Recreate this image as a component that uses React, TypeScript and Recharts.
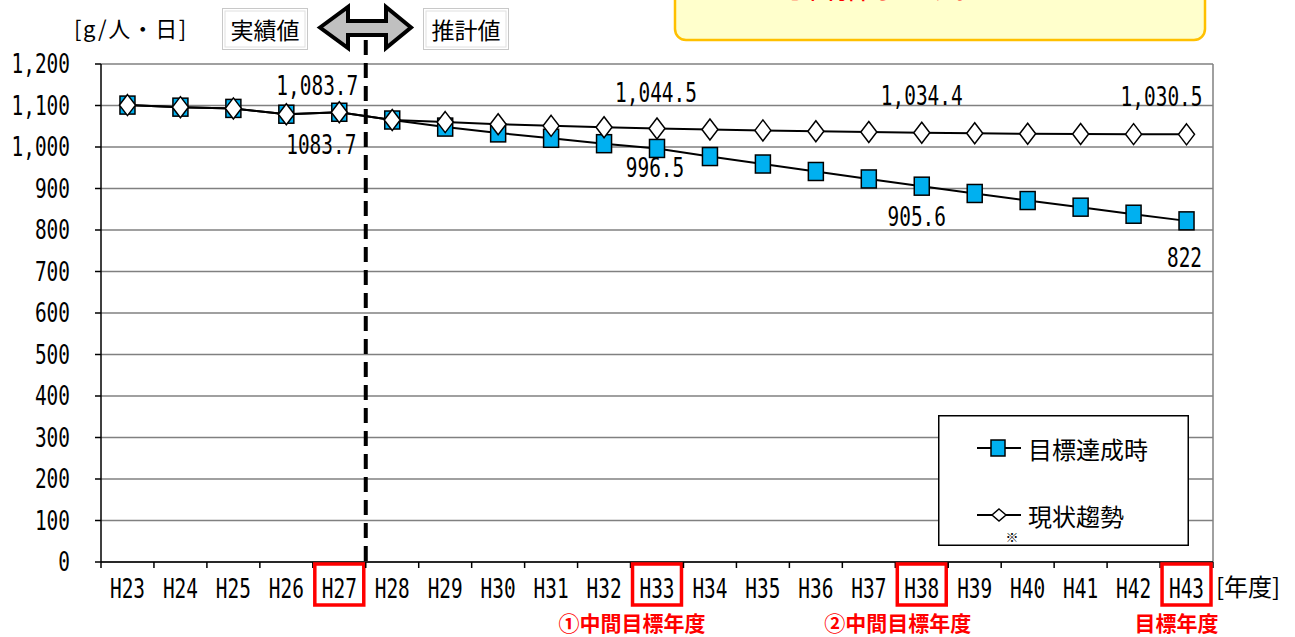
import React from "react";
import { LineChart, Line, XAxis, YAxis, CartesianGrid, Legend, LabelList } from "recharts";

const years = ["H23", "H24", "H25", "H26", "H27", "H28", "H29", "H30", "H31", "H32", "H33", "H34", "H35", "H36", "H37", "H38", "H39", "H40", "H41", "H42", "H43"];
const targetValues = [1101, 1096, 1093, 1079, 1083.7, 1065, 1048, 1034, 1021, 1008, 996.5, 977, 959, 941, 923, 905.6, 888, 871, 855, 838, 822];
const trendValues = [1101, 1096, 1093, 1079, 1083.7, 1065, 1060, 1055, 1051, 1047.5, 1044.5, 1042, 1040, 1038, 1036, 1034.4, 1033, 1032, 1031.5, 1031, 1030.5];
const yTicks = [0, 100, 200, 300, 400, 500, 600, 700, 800, 900, 1000, 1100, 1200];
const milestoneYears = ["H27", "H33", "H38", "H43"];
const noteYears = ["H33", "H38", "H43"];
const noteTexts = ["①中間目標年度", "②中間目標年度", "目標年度"];

const data = years.map((year, i) => ({ year, target: targetValues[i], trend: trendValues[i] }));

const W = 1295;
const H = 637;
const PLOT = { left: 101, top: 64, right: 1213, bottom: 562 };
const BAND = (PLOT.right - PLOT.left) / years.length;
const MONO = "'DejaVu Sans Mono', monospace";
const JP = "'Noto Sans CJK JP', sans-serif";
const BLUE = "#00b0f0";

// label placement relative to the point (dx, dy)
const targetLabelOffset: Record<string, [number, number]> = { H27: [-18, 33], H33: [-2, 19], H38: [-5, 31], H43: [-2, 37] };
const trendLabelOffset: Record<string, [number, number]> = { H27: [-22, -26], H33: [-1, -36], H38: [0, -37], H43: [-25, -38] };
const noteShift: Record<string, number> = { H33: -25, H38: -24, H43: -10 };

const MonoText = ({ x, y, anchor = "middle", children }: any) => (
  <text
    transform={`translate(${x},${y}) scale(0.72,1)`}
    textAnchor={anchor}
    dominantBaseline="central"
    fontFamily={MONO}
    fontSize={27}
    fill="#000"
  >
    {children}
  </text>
);

const XTick = (props: any) => {
  const { x, y, payload, index } = props;
  const half = payload.offset || BAND / 2;
  const name = payload.value;
  const noteIdx = noteYears.indexOf(name);
  return (
    <g>
      <line x1={x - half} x2={x - half} y1={y} y2={y + 6} stroke="#000" strokeWidth={1.5} />
      {index === years.length - 1 && (
        <line x1={x + half} x2={x + half} y1={y} y2={y + 6} stroke="#000" strokeWidth={1.5} />
      )}
      <MonoText x={x} y={y + 27}>{name}</MonoText>
      {milestoneYears.includes(name) && (
        <rect x={x - half + 2} y={y + 2} width={half * 2 - 4} height={41} fill="none" stroke="#ff0000" strokeWidth={3.5} />
      )}
      {noteIdx >= 0 && (
        <text
          x={x + (noteShift[name] || 0)}
          y={y + 60}
          textAnchor="middle"
          dominantBaseline="central"
          fontFamily={JP}
          fontWeight="bold"
          fontSize={21}
          fill="#ff0000"
        >
          {noteTexts[noteIdx]}
        </text>
      )}
    </g>
  );
};

const YTick = ({ x, y, payload }: any) => (
  <MonoText x={x} y={y} anchor="end">{payload.value.toLocaleString("en-US")}</MonoText>
);

const SquareDot = ({ cx, cy }: any) =>
  cx == null ? null : <rect x={cx - 7.5} y={cy - 9} width={15} height={18} fill={BLUE} stroke="#000" strokeWidth={1.5} />;

const DiamondDot = ({ cx, cy }: any) =>
  cx == null ? null : (
    <polygon
      points={`${cx},${cy - 10.5} ${cx + 8},${cy} ${cx},${cy + 10.5} ${cx - 8},${cy}`}
      fill="#fff"
      stroke="#000"
      strokeWidth={1.5}
    />
  );

const makeLabel = (offsets: Record<string, [number, number]>, withComma: boolean) => (props: any) => {
  const { x, y, value, index } = props;
  const off = offsets[years[index]];
  if (!off) return null;
  const txt = withComma ? Number(value).toLocaleString("en-US") : String(value);
  return <MonoText x={x + off[0]} y={y + off[1]}>{txt}</MonoText>;
};

const LegendBox = () => (
  <svg width={251} height={131} style={{ display: "block" }}>
    <rect x={0.75} y={0.75} width={249.5} height={129.5} fill="#fff" stroke="#000" strokeWidth={1.5} />
    <line x1={39} x2={83} y1={33} y2={33} stroke="#000" strokeWidth={2} />
    <rect x={53} y={25} width={14} height={16} fill={BLUE} stroke="#000" strokeWidth={1.5} />
    <text x={90} y={33} dominantBaseline="central" fontFamily={JP} fontSize={24} fill="#000">目標達成時</text>
    <line x1={39} x2={83} y1={100} y2={100} stroke="#000" strokeWidth={2} />
    <polygon points="61,94 68,100 61,106 54,100" fill="#fff" stroke="#000" strokeWidth={1.5} />
    <text x={90} y={100} dominantBaseline="central" fontFamily={JP} fontSize={24} fill="#000">現状趨勢</text>
    <text x={74} y={121} textAnchor="middle" dominantBaseline="central" fontFamily={JP} fontSize={13} fill="#000">※</text>
  </svg>
);

const Overlay = () => {
  const splitX = PLOT.left + 5 * BAND;
  return (
    <svg width={W} height={H} style={{ position: "absolute", left: 0, top: 0, pointerEvents: "none" }}>
      <rect x={675} y={-12} width={530} height={52} rx={11} fill="#ffffcc" stroke="#ffc000" strokeWidth={2.5} />
      <text x={717} y={-2} fontFamily={JP} fontSize={30} fill="#ff0000">ことを目指します。</text>
      <text x={74} y={27} dominantBaseline="central" fontFamily={JP} fontSize={22} letterSpacing={1.5} fill="#000">[g/人・日]</text>
      {[
        { x: 222, label: "実績値" },
        { x: 423, label: "推計値" },
      ].map((b) => (
        <g key={b.label}>
          <rect x={b.x + 0.5} y={8.5} width={85} height={41} fill="#fff" stroke="#c8c8c8" strokeWidth={1} />
          <rect x={b.x + 3} y={11} width={80} height={36} fill="#fff" stroke="#e0e0e0" strokeWidth={1} />
          <text x={b.x + 43} y={29} textAnchor="middle" dominantBaseline="central" fontFamily={JP} fontSize={23} fill="#000">
            {b.label}
          </text>
        </g>
      ))}
      <line x1={splitX} x2={splitX} y1={40} y2={PLOT.bottom} stroke="#000" strokeWidth={4} strokeDasharray="15 8" />
      <polygon
        points="320,27.5 348,7 348,21 386,21 386,7 411,27.5 386,48 386,35 348,35 348,48"
        fill="#c0c0c0"
        stroke="#000"
        strokeWidth={4}
        strokeLinejoin="miter"
      />
      <text x={1216} y={585} dominantBaseline="central" fontFamily={JP} fontSize={24} fill="#000">[年度]</text>
    </svg>
  );
};

export default function App() {
  return (
    <div style={{ position: "absolute", left: 0, top: 0, width: W, height: H, background: "#fff" }}>
      <LineChart width={W} height={H} data={data} margin={{ top: PLOT.top, right: W - PLOT.right, bottom: 45, left: 0 }}>
        <CartesianGrid
          stroke="#808080"
          strokeWidth={1.5}
          horizontal
          vertical
          verticalCoordinatesGenerator={({ offset }: any) => [offset.left + offset.width]}
        />
        <XAxis
          dataKey="year"
          scale="band"
          interval={0}
          height={30}
          tickSize={0}
          tickMargin={0}
          tickLine={false}
          axisLine={{ stroke: "#000", strokeWidth: 1.5 }}
          tick={<XTick />}
        />
        <YAxis
          domain={[0, 1200]}
          ticks={yTicks}
          width={PLOT.left}
          tickSize={6}
          tickMargin={25}
          interval={0}
          tickLine={{ stroke: "#000", strokeWidth: 1.5 }}
          axisLine={{ stroke: "#000", strokeWidth: 1.5 }}
          tick={<YTick />}
        />
        <Legend
          layout="horizontal"
          verticalAlign="middle"
          align="center"
          content={() => <LegendBox />}
          wrapperStyle={{ left: 938, top: 415, width: 251, height: 131 }}
        />
        <Line
          name="目標達成時"
          dataKey="target"
          type="linear"
          stroke="#000"
          strokeWidth={2}
          dot={<SquareDot />}
          activeDot={false}
          isAnimationActive={false}
        >
          <LabelList dataKey="target" content={makeLabel(targetLabelOffset, false)} />
        </Line>
        <Line
          name="現状趨勢"
          dataKey="trend"
          type="linear"
          stroke="#000"
          strokeWidth={2}
          dot={<DiamondDot />}
          activeDot={false}
          isAnimationActive={false}
        >
          <LabelList dataKey="trend" content={makeLabel(trendLabelOffset, true)} />
        </Line>
      </LineChart>
      <Overlay />
    </div>
  );
}
